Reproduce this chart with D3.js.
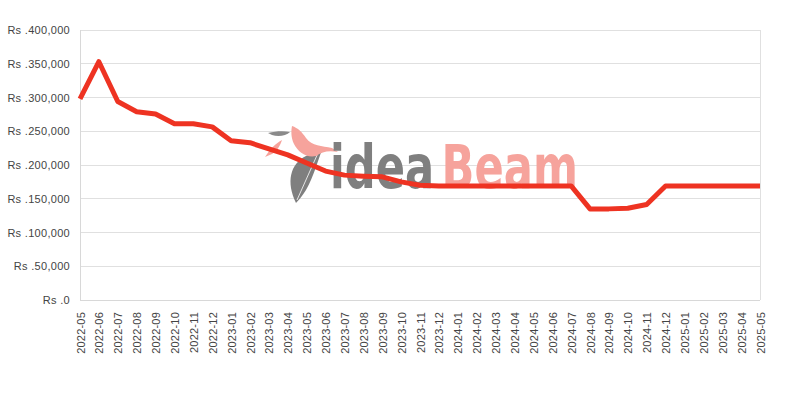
<!DOCTYPE html>
<html><head><meta charset="utf-8">
<script src="https://cdn.jsdelivr.net/npm/d3@7"></script>
<style>body{margin:0;background:#fff}svg{display:block}</style>
</head><body><svg id="c" width="800" height="400"></svg>
<script>
const months = ["2022-05","2022-06","2022-07","2022-08","2022-09","2022-10","2022-11","2022-12",
"2023-01","2023-02","2023-03","2023-04","2023-05","2023-06","2023-07","2023-08","2023-09","2023-10","2023-11","2023-12",
"2024-01","2024-02","2024-03","2024-04","2024-05","2024-06","2024-07","2024-08","2024-09","2024-10","2024-11","2024-12",
"2025-01","2025-02","2025-03","2025-04","2025-05"];
const prices = [298000,353000,294000,279000,275500,261000,261000,256500,
236000,233000,224000,215000,203000,191000,185000,183500,182500,175000,170000,169000,
169000,169000,169000,169000,169000,169000,169000,135000,135000,136000,141500,169000,
169000,169000,169000,169000,169000];
const yTicks = [0,50000,100000,150000,200000,250000,300000,350000,400000];

const svg = d3.select("#c");
const m = {l:80, r:40, t:30, b:100};
const W = 800, H = 400;
const x = d3.scalePoint().domain(months).range([m.l, W - m.r]);
const y = d3.scaleLinear().domain([0,400000]).range([H - m.b, m.t]);
const FONT = "Liberation Sans, Arial, sans-serif";

// grid
svg.append("g").selectAll("line").data(yTicks).join("line")
  .attr("x1", m.l).attr("x2", W - m.r)
  .attr("y1", d => y(d)).attr("y2", d => y(d))
  .attr("stroke", "#e0e0e0").attr("stroke-width", 1).attr("shape-rendering","crispEdges");
svg.append("line").attr("x1", m.l).attr("x2", m.l).attr("y1", m.t).attr("y2", H - m.b)
  .attr("stroke","#d8d8d8").attr("shape-rendering","crispEdges");
svg.append("line").attr("x1", W - m.r).attr("x2", W - m.r).attr("y1", m.t).attr("y2", H - m.b)
  .attr("stroke","#e0e0e0").attr("shape-rendering","crispEdges");
svg.append("line").attr("x1", m.l).attr("x2", W - m.r).attr("y1", H - m.b).attr("y2", H - m.b)
  .attr("stroke","#d8d8d8").attr("shape-rendering","crispEdges");

// y axis labels
const fmt = d3.format(",");
const yAxis = d3.axisLeft(y).tickValues(yTicks).tickSize(0).tickPadding(10)
  .tickFormat(d => "Rs ." + fmt(d));
const gy = svg.append("g").attr("transform", `translate(${m.l},0)`).call(yAxis);
gy.select(".domain").remove();
gy.selectAll("text").attr("font-family", FONT).attr("font-size", 11)
  .attr("letter-spacing", 0.3).attr("fill","#444");

// x axis labels
const xAxis = d3.axisBottom(x).tickSize(0).tickPadding(0);
const gx = svg.append("g").attr("transform", `translate(0,${H - m.b})`).call(xAxis);
gx.select(".domain").remove();
gx.selectAll("text")
  .attr("font-family", FONT).attr("font-size", 11).attr("fill","#444")
  .attr("letter-spacing", 0.2)
  .attr("text-anchor","end").attr("dy", null)
  .attr("transform","translate(4,12) rotate(-90)")
  .attr("x", 0).attr("y", 0);

// watermark logo
const wm = svg.append("g");
wm.append("path")
  .attr("d","M296,203 C286,182 290,164 306,156 C312,153 318,151 322,150 C318,160 314,176 306,190 C302,196 299,200 296,203 Z")
  .attr("fill","#7f7f7f");
wm.append("path").attr("d","M297,200 L318,153").attr("stroke","#fff").attr("stroke-width",0.8);
wm.append("path")
  .attr("d","M292,126 C298,128 302,132 306,138 C312,146 322,146 332,148 L338,152 C328,150 322,152 316,156 C306,158 298,152 294,144 C291,138 291,131 292,126 Z")
  .attr("fill","#f6a39c");
wm.append("path")
  .attr("d","M265,157 C270,149 275,144 282,140 C280,146 277,151 272,154 Z")
  .attr("fill","#f6a39c");
wm.append("path")
  .attr("d","M268,133 C276,131 284,131 290,132 C286,136 278,137 272,135 Z")
  .attr("fill","#8a8a8a");
const lg = wm.append("g").attr("transform","translate(330,188) scale(0.72,1)")
  .attr("font-family","DejaVu Sans, sans-serif").attr("font-size", 60).attr("font-weight", "bold");
lg.append("text").attr("x", 0).attr("y", 0).attr("fill","#7f7f7f").text("idea");
lg.append("text").attr("x", 155).attr("y", 0).attr("fill","#f6a39c").text("Beam");

// line
const line = d3.line().x((d,i) => x(months[i])).y(d => y(d));
svg.append("path").datum(prices)
  .attr("d", line)
  .attr("fill","none").attr("stroke","#ee3322").attr("stroke-width",5)
  .attr("stroke-linejoin","round");
</script></body></html>
